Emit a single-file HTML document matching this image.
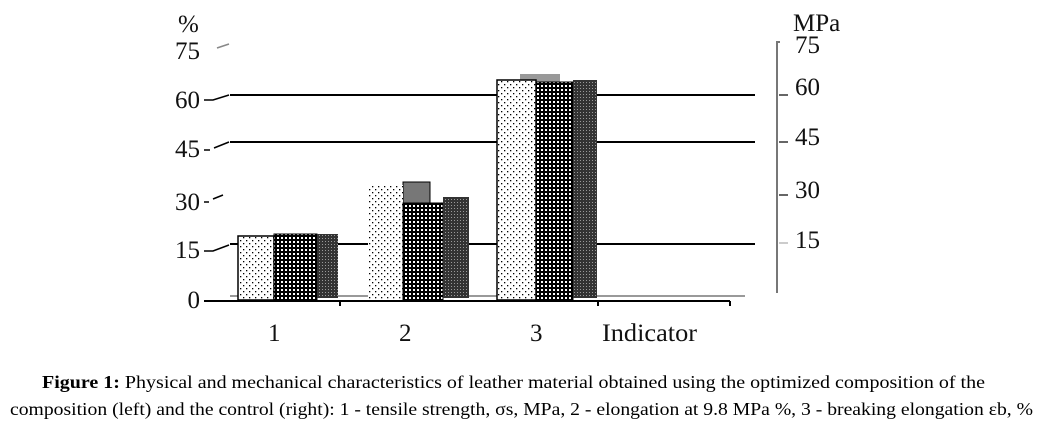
<!DOCTYPE html>
<html><head><meta charset="utf-8"><style>
body{margin:0;background:#fff;width:1044px;height:423px;overflow:hidden}
svg{position:absolute;left:0;top:0}
text{font-family:"Liberation Serif",serif}
</style></head><body>
<svg width="1044" height="423" viewBox="0 0 1044 423">
<defs>
<pattern id="dots" width="6" height="6" patternUnits="userSpaceOnUse"><rect width="6" height="6" fill="#fff"/><rect x="0" y="0" width="1.3" height="1.3" fill="#000"/><rect x="3" y="3" width="1.3" height="1.3" fill="#000"/></pattern>
<pattern id="chk" width="4" height="4" patternUnits="userSpaceOnUse"><rect width="4" height="4" fill="#000"/><rect x="1" y="1" width="2" height="2" fill="#fff"/></pattern>
<pattern id="dchk" width="3" height="3" patternUnits="userSpaceOnUse"><rect width="3" height="3" fill="#333"/><rect x="1" y="1" width="1" height="1" fill="#999"/></pattern>
</defs>
<g stroke="#000" stroke-width="2">
<line x1="230" y1="95" x2="755" y2="95"/>
<line x1="230" y1="142" x2="755" y2="142"/>
<line x1="230" y1="244" x2="755" y2="244"/>
<line x1="204" y1="301" x2="730" y2="301"/>
<line x1="340" y1="301" x2="340" y2="306"/>
<line x1="598" y1="301" x2="598" y2="306"/>
<line x1="730" y1="301" x2="730" y2="306"/>
</g>
<line x1="230" y1="296" x2="745" y2="296" stroke="#999" stroke-width="2"/>
<g stroke="#000" stroke-width="1.5" fill="none">
<path d="M204 100h9l16-5"/><path d="M204 150h6m4-2l15-6"/><path d="M204 202h5m4-3l10-4"/><path d="M204 251h9l16-6"/>
</g>
<path d="M217 48l12-4" stroke="#888" stroke-width="1.5"/>
<path d="M780 42h-3v251" stroke="#777" stroke-width="2" fill="none"/>
<g stroke="#333" stroke-width="1.5"><line x1="779" y1="95" x2="788" y2="95"/><line x1="779" y1="142" x2="788" y2="142"/><line x1="779" y1="195" x2="788" y2="195"/><line x1="779" y1="243" x2="788" y2="243" stroke="#bbb"/></g>
<rect x="238" y="236" width="36" height="64" fill="url(#dots)" stroke="#000" stroke-width="1.5"/>
<rect x="274" y="234" width="43" height="66" fill="url(#chk)" stroke="#000" stroke-width="1"/>
<rect x="317" y="234" width="21" height="64" fill="url(#dchk)"/>
<rect x="403" y="182" width="27" height="22" fill="#777" stroke="#000" stroke-width="1"/>
<rect x="368" y="185" width="35" height="115" fill="url(#dots)"/>
<rect x="403" y="203" width="40" height="97" fill="url(#chk)" stroke="#000" stroke-width="1"/>
<rect x="443" y="197" width="26" height="101" fill="url(#dchk)"/>
<rect x="520" y="74" width="40" height="8" fill="#999"/>
<rect x="497" y="80" width="39" height="220" fill="url(#dots)" stroke="#000" stroke-width="1.5"/>
<rect x="536" y="82" width="37" height="218" fill="url(#chk)" stroke="#000" stroke-width="1"/>
<rect x="573" y="80" width="24" height="218" fill="url(#dchk)"/>
<g font-size="25" fill="#111">
<text x="178" y="32">%</text>
<g text-anchor="end">
<text x="200" y="59">75</text><text x="200" y="108">60</text><text x="200" y="157">45</text><text x="200" y="210">30</text><text x="200" y="258">15</text><text x="200" y="308">0</text>
</g>
<text x="793" y="31">MPa</text>
<text x="795" y="53">75</text><text x="795" y="95">60</text><text x="795" y="145">45</text><text x="795" y="198">30</text><text x="795" y="248">15</text>
<text x="268" y="341">1</text><text x="399" y="341">2</text><text x="530" y="341">3</text><text x="602" y="341" textLength="95" lengthAdjust="spacingAndGlyphs">Indicator</text>
</g>
<g font-size="17.5" fill="#000">
<text x="42" y="388" textLength="943" lengthAdjust="spacingAndGlyphs"><tspan font-weight="bold">Figure 1:</tspan> Physical and mechanical characteristics of leather material obtained using the optimized composition of the</text>
<text x="10" y="415" textLength="1023" lengthAdjust="spacingAndGlyphs">composition (left) and the control (right): 1 - tensile strength, σs, MPa, 2 - elongation at 9.8 MPa %, 3 - breaking elongation εb, %</text>
</g>
</svg>
</body></html>
